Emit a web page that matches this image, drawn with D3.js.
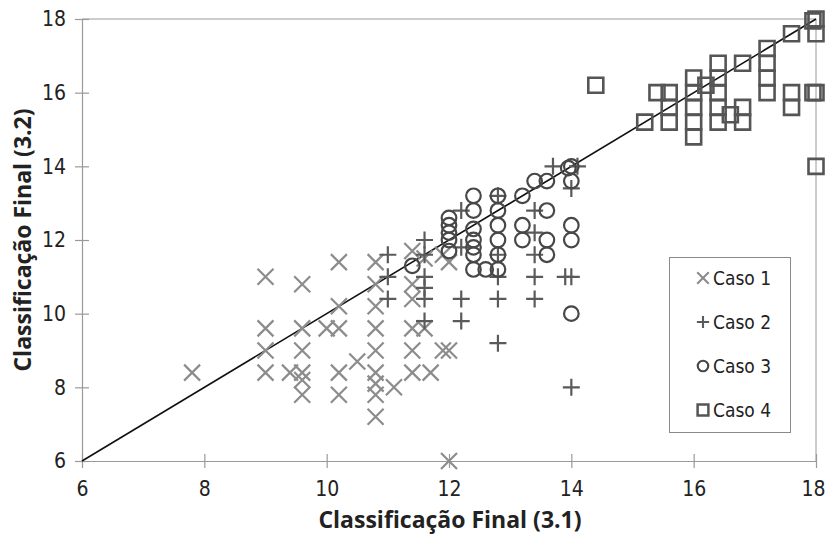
<!DOCTYPE html>
<html lang="en">
<head>
<meta charset="UTF-8">
<title>Classificação Final</title>
<script src="https://cdn.jsdelivr.net/npm/d3@7"></script>
<style>
    body { margin: 0; background: #fff; }
    svg { display: block; }
    .tick text { font-family: "DejaVu Sans Condensed", "DejaVu Sans", sans-serif; font-size: 21px; fill: #222; }
    .title { font-family: "Open Sans", "DejaVu Sans", sans-serif; font-weight: bold; font-size: 23px; fill: #222; }
    .legend text { font-family: "DejaVu Sans Condensed", "DejaVu Sans", sans-serif; font-size: 19px; fill: #222; }
</style>
</head>
<body>
<svg width="827" height="548"></svg>
<script>
    // Caso 1 .. Caso 4 : [Classificação (3.1), Classificação (3.2)]
    const caso1 = [
        [7.8, 8.4], [9.0, 11.0], [9.0, 9.6], [9.0, 9.0], [9.0, 8.4],
        [9.6, 10.8], [9.6, 9.6], [9.6, 9.0], [9.6, 8.4], [9.6, 8.2], [9.6, 7.8], [9.4, 8.4],
        [10.2, 11.4], [10.2, 10.2], [10.0, 9.6], [10.2, 9.6], [10.5, 8.7], [10.2, 8.4], [10.2, 7.8],
        [10.8, 11.4], [10.8, 10.8], [10.8, 10.2], [10.8, 9.6], [10.8, 9.0], [10.8, 8.4],
        [10.8, 8.1], [10.8, 7.8], [10.8, 7.2], [11.1, 8.0],
        [11.4, 11.7], [11.4, 10.8], [11.4, 10.4], [11.4, 9.6], [11.4, 9.0], [11.4, 8.4],
        [11.6, 9.6], [11.7, 8.4], [11.9, 9.0], [12.0, 9.0], [12.0, 6.0],
        [11.9, 11.6], [12.0, 11.4], [11.6, 11.5]
    ];
    const caso2 = [
        [11.0, 11.6], [11.0, 11.0], [11.0, 10.4],
        [11.6, 12.0], [11.6, 11.6], [11.6, 11.0], [11.6, 10.7], [11.6, 10.4], [11.6, 9.8],
        [12.2, 12.8], [12.2, 11.8], [12.2, 10.4], [12.2, 9.8],
        [12.8, 13.2], [12.8, 11.6], [12.8, 11.0], [12.8, 10.4], [12.8, 9.2],
        [13.4, 12.8], [13.4, 12.2], [13.4, 11.6], [13.4, 11.0], [13.4, 10.4],
        [13.7, 14.0], [14.0, 13.4], [13.9, 11.0], [14.0, 11.0], [14.0, 8.0], [14.1, 14.0]
    ];
    const caso3 = [
        [11.4, 11.3],
        [12.0, 12.6], [12.0, 12.4], [12.0, 12.2], [12.0, 12.0], [12.0, 11.7],
        [12.4, 13.2], [12.4, 12.8], [12.4, 12.3], [12.4, 12.0], [12.4, 11.8], [12.4, 11.6], [12.4, 11.2], [12.6, 11.2],
        [12.8, 13.2], [12.8, 12.8], [12.8, 12.4], [12.8, 12.0], [12.8, 11.6], [12.8, 11.2],
        [13.2, 13.2], [13.2, 12.4], [13.2, 12.0],
        [13.4, 13.6], [13.6, 13.6], [13.6, 12.8], [13.6, 12.0], [13.6, 11.6],
        [14.0, 14.0], [13.95, 13.95], [14.0, 13.6], [14.0, 12.4], [14.0, 12.0], [14.0, 10.0]
    ];
    const caso4 = [
        [14.4, 16.2],
        [15.2, 15.2], [15.4, 16.0], [15.6, 16.0], [15.6, 15.6], [15.6, 15.2],
        [16.0, 16.4], [16.0, 16.0], [16.0, 15.6], [16.0, 15.2], [16.0, 14.8],
        [16.2, 16.2],
        [16.4, 16.8], [16.4, 16.4], [16.4, 16.0], [16.4, 15.6], [16.4, 15.2],
        [16.6, 15.4],
        [16.8, 16.8], [16.8, 15.6], [16.8, 15.2],
        [17.2, 17.2], [17.2, 16.8], [17.2, 16.4], [17.2, 16.0],
        [17.6, 17.6], [17.6, 16.0], [17.6, 15.6],
        [18.0, 18.0], [17.95, 17.95], [18.0, 17.6], [18.0, 16.0], [17.95, 16.0], [18.0, 14.0]
    ];
    const ticks = [6, 8, 10, 12, 14, 16, 18];
    const legendLabels = ["Caso 1", "Caso 2", "Caso 3", "Caso 4"];

    const svg = d3.select("svg");
    const margin = { left: 82, right: 11, top: 19, bottom: 87 };
    const width = 827, height = 548;

    const x = d3.scaleLinear().domain([6, 18]).range([margin.left, width - margin.right]);
    const y = d3.scaleLinear().domain([6, 18]).range([height - margin.bottom, margin.top]);

    // frame
    const axisColor = "#9a9a9a";
    svg.append("line").attr("x1", x(6)).attr("x2", x(18)).attr("y1", y(18)).attr("y2", y(18)).attr("stroke", axisColor);
    svg.append("line").attr("x1", x(18)).attr("x2", x(18)).attr("y1", y(18)).attr("y2", y(6)).attr("stroke", axisColor);

    // axes, ticks crossing the line
    const xAxis = svg.append("g")
        .attr("transform", `translate(0,${y(6)})`)
        .call(d3.axisBottom(x).tickValues(ticks).tickSizeInner(7).tickSizeOuter(0).tickPadding(13));
    xAxis.selectAll(".tick line").attr("y1", -7);
    // last label sits at the page edge
    xAxis.selectAll(".tick text").filter(d => d === 18).attr("dx", -3);
    const yAxis = svg.append("g")
        .attr("transform", `translate(${x(6)},0)`)
        .call(d3.axisLeft(y).tickValues(ticks).tickSizeInner(7).tickSizeOuter(0).tickPadding(9));
    yAxis.selectAll(".tick line").attr("x1", 7);
    svg.selectAll(".domain, .tick line").attr("stroke", axisColor).attr("stroke-width", 1.2);
    svg.selectAll(".tick text").attr("fill", "#222");

    // y = x reference line
    svg.append("line")
        .attr("x1", x(6)).attr("y1", y(6)).attr("x2", x(18)).attr("y2", y(18))
        .attr("stroke", "#111").attr("stroke-width", 1.6);

    // marker shapes
    const styles = [
        { color: "#8c8c8c", path: "M-8,-8L8,8M-8,8L8,-8", width: 2.2 },
        { color: "#5a5a5a", path: "M-8.5,0H8.5M0,-8.5V8.5", width: 2.2 },
        { color: "#474747", path: "M7.3,0A7.3,7.3 0 1,1 -7.3,0A7.3,7.3 0 1,1 7.3,0Z", width: 2.2 },
        { color: "#555555", path: "M-7.5,-7.5H7.5V7.5H-7.5Z", width: 2.6 }
    ];

    const groups = [caso1, caso2, caso3, caso4];
    groups.forEach((data, i) => {
        svg.append("g").selectAll("path")
            .data(data)
            .enter().append("path")
            .attr("transform", d => `translate(${x(d[0])},${y(d[1])})`)
            .attr("d", styles[i].path)
            .attr("fill", "none")
            .attr("stroke", styles[i].color)
            .attr("stroke-width", styles[i].width);
    });

    // legend
    const legend = svg.append("g").attr("class", "legend");
    legend.append("rect")
        .attr("x", 669.5).attr("y", 257.5).attr("width", 121).attr("height", 175)
        .attr("fill", "#fff").attr("stroke", "#8a8a8a");
    legendLabels.forEach((lab, i) => {
        const ly = 278 + i * 44;
        const s = styles[i];
        legend.append("path")
            .attr("transform", `translate(703,${ly}) scale(0.72)`)
            .attr("d", s.path).attr("fill", "none")
            .attr("stroke", s.color).attr("stroke-width", s.width / 0.75);
        legend.append("text").attr("x", 713).attr("y", ly).attr("dy", "0.35em").text(lab);
    });

    // axis titles
    svg.append("text").attr("class", "title")
        .attr("x", 450).attr("y", 528).attr("text-anchor", "middle")
        .text("Classificação Final (3.1)");
    svg.append("text").attr("class", "title")
        .attr("transform", `translate(31,240) rotate(-90)`)
        .attr("text-anchor", "middle")
        .text("Classificação Final (3.2)");
</script>
</body>
</html>
